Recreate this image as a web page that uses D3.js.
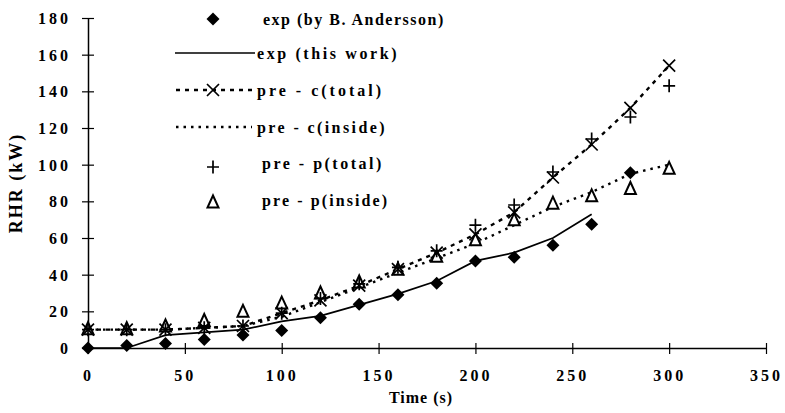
<!DOCTYPE html>
<html><head><meta charset="utf-8">
<script src="https://cdn.jsdelivr.net/npm/d3@7"></script>
<style>
body{margin:0;background:#fff;}
text{font-family:"Liberation Serif","Times New Roman",serif;fill:#000;font-weight:bold;}
</style></head>
<body><svg id="c" width="785" height="413"></svg>
<script>
const times = [0,20,40,60,80,100,120,140,160,180,200,220,240,260,280,300];
const expAndersson = [0,1.3,2.4,4.7,7.1,9.6,16.5,23.8,29,35.3,47.5,49.5,56,67.5,95.6];
const expThisWork = [0,0,7,8.5,10,14.5,17.5,23.5,29.5,36.5,47.5,52,60,73];
const preCTotal = [10,10,10,11,12,19,26,34,43,52,62,74,93,111,131,154];
const preCInside = [10,10,10,11,12,17,25,33,41,49,57,67,77,85,95,100];
const prePTotal = [10,10,10,11,12,19,27,35,44,53,67,78,96,114,126,143];
const prePInside = [10.5,10.5,12,15,20,24.5,30,36,43,50,59,70,79,83,87,98];
const xTicks = [0,50,100,150,200,250,300,350];
const yTicks = [0,20,40,60,80,100,120,140,160,180];
const legendLabels = ["exp (by B. Andersson)","exp (this work)","pre - c(total)","pre - c(inside)","pre - p(total)","pre - p(inside)"];

const svg = d3.select("#c");
const x = d3.scaleLinear().domain([0,350]).range([88,766]);
const y = d3.scaleLinear().domain([0,180]).range([348,18]);

// axes
const xAxis = svg.append("g").attr("transform","translate(0,348)")
  .call(d3.axisBottom(x).tickValues(xTicks).tickSize(0).tickPadding(0));
xAxis.select(".domain").attr("stroke","#000").attr("stroke-width",1.5);
xAxis.selectAll(".tick text").remove();
xAxis.selectAll(".tick").append("line").attr("y1",-5).attr("y2",6).attr("stroke","#000").attr("stroke-width",1.2);
xAxis.selectAll(".tick").append("text").attr("y",33).attr("text-anchor","middle")
  .style("font-size","16px").style("letter-spacing","3px").text(d=>d);

const yAxis = svg.append("g").attr("transform","translate(88,0)")
  .call(d3.axisLeft(y).tickValues(yTicks).tickSize(0).tickPadding(0));
yAxis.select(".domain").attr("stroke","#000").attr("stroke-width",1.5);
yAxis.selectAll(".tick text").remove();
yAxis.selectAll(".tick").append("line").attr("x1",-6).attr("x2",6).attr("stroke","#000").attr("stroke-width",1.2);
yAxis.selectAll(".tick").append("text").attr("x",-17).attr("dy","0.35em").attr("text-anchor","end")
  .style("font-size","16px").style("letter-spacing","3px").text(d=>d);

svg.append("text").attr("x",421).attr("y",403).attr("text-anchor","middle")
  .style("font-size","16px").style("letter-spacing","1px").text("Time (s)");
svg.append("text").attr("transform","translate(22,183) rotate(-90)").attr("text-anchor","middle")
  .style("font-size","18px").style("letter-spacing","2px").text("RHR (kW)");

const line = d3.line().x((d,i)=>x(times[i])).y(d=>y(d));
// lines
svg.append("path").datum(expThisWork).attr("d",line).attr("fill","none").attr("stroke","#000").attr("stroke-width",1.7);
svg.append("path").datum(preCInside).attr("d",line).attr("fill","none").attr("stroke","#000").attr("stroke-width",2.4).attr("stroke-dasharray","2.5,5");
svg.append("path").datum(preCTotal).attr("d",line).attr("fill","none").attr("stroke","#000").attr("stroke-width",2.4).attr("stroke-dasharray","4,5");

// marker painters
function diamond(g,cx,cy){g.append("path").attr("d",`M${cx},${cy-6.5}L${cx+6.5},${cy}L${cx},${cy+6.5}L${cx-6.5},${cy}Z`).attr("fill","#000");}
function cross(g,cx,cy){g.append("path").attr("d",`M${cx-6},${cy-6}L${cx+6},${cy+6}M${cx+6},${cy-6}L${cx-6},${cy+6}`).attr("stroke","#000").attr("stroke-width",1.7).attr("fill","none");}
function plus(g,cx,cy){g.append("path").attr("d",`M${cx-6},${cy}L${cx+6},${cy}M${cx},${cy-6.5}L${cx},${cy+6.5}`).attr("stroke","#000").attr("stroke-width",1.7).attr("fill","none");}
function tri(g,cx,cy){g.append("path").attr("d",`M${cx},${cy-6.5}L${cx+5.5},${cy+5.5}L${cx-5.5},${cy+5.5}Z`).attr("stroke","#000").attr("stroke-width",2).attr("fill","#fff");}

const gm = svg.append("g");
prePInside.forEach((v,i)=>tri(gm,x(times[i]),y(v)));
preCTotal.forEach((v,i)=>cross(gm,x(times[i]),y(v)));
prePTotal.forEach((v,i)=>plus(gm,x(times[i]),y(v)));
expAndersson.forEach((v,i)=>diamond(gm,x(times[i]),y(v)));

// legend
const lg = svg.append("g");
const rows = [19,53,90,127,163,200];
const mx = 213;
diamond(lg,mx,rows[0]);
lg.append("line").attr("x1",175).attr("x2",255).attr("y1",rows[1]).attr("y2",rows[1]).attr("stroke","#000").attr("stroke-width",1.4);
lg.append("line").attr("x1",176).attr("x2",252).attr("y1",rows[2]).attr("y2",rows[2]).attr("stroke","#000").attr("stroke-width",2.4).attr("stroke-dasharray","4,5");
cross(lg,mx,rows[2]);
lg.append("line").attr("x1",176).attr("x2",252).attr("y1",rows[3]).attr("y2",rows[3]).attr("stroke","#000").attr("stroke-width",2.4).attr("stroke-dasharray","2.5,5");
plus(lg,mx,rows[4]+4);
tri(lg,mx,rows[5]+2);
const tx = [263,257,257,257,262,262];
const ls = [1.5,2.6,3,2.4,2.5,2.1];
legendLabels.forEach((t,i)=>{
  lg.append("text").attr("x",tx[i]).attr("y",rows[i]).attr("dy","0.35em")
    .style("font-size","16px").style("letter-spacing",ls[i]+"px").text(t);
});
</script></body></html>
